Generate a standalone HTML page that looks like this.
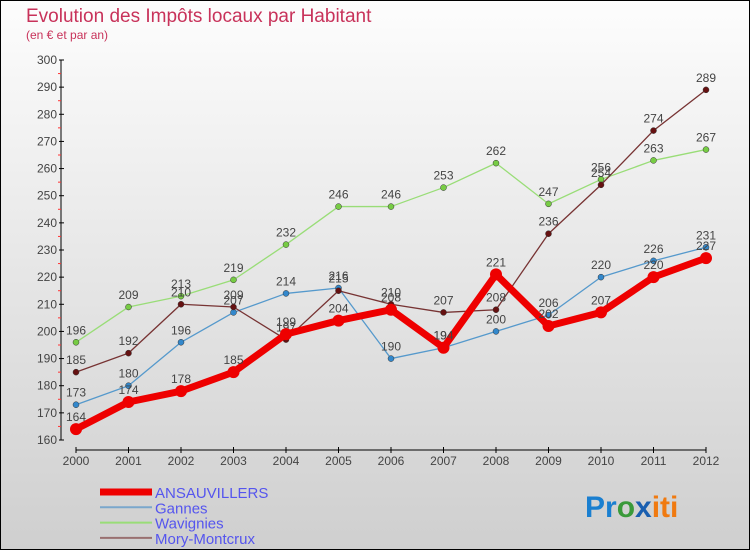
<!DOCTYPE html>
<html><head><meta charset="utf-8"><style>
body{margin:0}
#c{width:750px;height:550px;position:relative;overflow:hidden;font-family:"Liberation Sans",sans-serif}
</style></head><body>
<div id="c">
<svg id="s" width="750" height="550" xmlns="http://www.w3.org/2000/svg">
<defs><linearGradient id="bg" x1="0" y1="0" x2="0" y2="1"><stop offset="0" stop-color="#fdfdfd"/><stop offset="1" stop-color="#cfcfcf"/></linearGradient></defs>
<rect x="0.5" y="0.5" width="749" height="549" fill="url(#bg)" stroke="#000"/>
<text x="26" y="22" font-size="19" fill="#c8325a">Evolution des Impôts locaux par Habitant</text>
<text x="26" y="39" font-size="12" fill="#c8325a">(en € et par an)</text>
<g id="axes"></g><g id="series"></g><g id="legend"></g>
<text x="585" y="517" font-size="30" font-weight="bold"><tspan fill="#1a7fd0">Pr</tspan><tspan fill="#3a9a3a">o</tspan><tspan fill="#1a5fb0">x</tspan><tspan fill="#f07a10">iti</tspan></text>
</svg>
</div>
<script>
const years=[2000,2001,2002,2003,2004,2005,2006,2007,2008,2009,2010,2011,2012];
const yTicks=[160,170,180,190,200,210,220,230,240,250,260,270,280,290,300];
const ansauvillers=[164,174,178,185,199,204,208,194,221,202,207,220,227];
const gannes=[173,180,196,207,214,216,190,194,200,206,220,226,231];
const wavignies=[196,209,213,219,232,246,246,253,262,247,256,263,267];
const mory=[185,192,210,209,197,215,210,207,208,236,254,274,289];
const NS="http://www.w3.org/2000/svg";
const X=i=>76+i*52.5, Y=v=>440-(v-160)*380/140;
function mk(t,a,p){const e=document.createElementNS(NS,t);for(const k in a)e.setAttribute(k,a[k]);p.appendChild(e);return e;}
const ax=document.getElementById('axes');
let l=mk('line',{x1:61,y1:Y(300),x2:61,y2:Y(160),stroke:'#000'},ax);


l=mk('line',{x1:76,y1:450,x2:706,y2:450,stroke:'#000'},ax);


yTicks.forEach(v=>{
 mk('line',{x1:59,y1:Y(v),x2:64,y2:Y(v),stroke:'#000'},ax);
 if(v<300)mk('line',{x1:58,y1:Y(v+5),x2:61,y2:Y(v+5),stroke:'#f33'},ax);
 const t=mk('text',{x:57,y:Y(v)+4,'text-anchor':'end','font-size':12,fill:'#444'},ax);
 t.textContent=v;
 
 
});
years.forEach((y,i)=>{
 mk('line',{x1:X(i),y1:447,x2:X(i),y2:453,stroke:'#000'},ax);
 const t=mk('text',{x:X(i),y:465,'text-anchor':'middle','font-size':12,fill:'#444'},ax);
 t.textContent=y;
 
 
});
const sg=document.getElementById('series');
const series=[
 {n:'wavignies',d:wavignies,c:'#99dd77',pc:'#77cc44',w:1.3,r:3},
 {n:'gannes',d:gannes,c:'#5599cc',pc:'#3388cc',w:1.3,r:3},
 {n:'mory-montcrux',d:mory,c:'#773333',pc:'#661111',w:1.3,r:3},
 {n:'ansauvillers',d:ansauvillers,c:'#ee0000',pc:'#ee0000',w:7,r:6}
];
series.forEach(s=>{
 const g=mk('g',{},sg);
 
 
 const p=mk('polyline',{points:s.d.map((v,i)=>X(i)+','+Y(v)).join(' '),fill:'none',stroke:s.c,'stroke-width':s.w,'stroke-linejoin':'round'},g);
 
 
 s.d.forEach((v,i)=>{
  const c=mk('circle',{cx:X(i),cy:Y(v),r:s.r,fill:s.pc,stroke:'#333','stroke-width':s.r>3?0:0.5},g);
  
  
  const t=mk('text',{x:X(i),y:Y(v)-8,'text-anchor':'middle','font-size':12,fill:'#444'},g);
  t.textContent=v;
  
  
 });
});
const lg=document.getElementById('legend');
[['ANSAUVILLERS','#ee0000',7],['Gannes','#7aa7cc',2],['Wavignies','#99dd77',2],['Mory-Montcrux','#997070',2]].forEach((e,i)=>{
 const y=492+i*15.3;
 const ln=mk('line',{x1:100,y1:y,x2:152,y2:y,stroke:e[1],'stroke-width':e[2]},lg);
 
 
 const t=mk('text',{x:155,y:y+6,'font-size':15,fill:'#5555ee'},lg);
 t.textContent=e[0];
 
 
});
</script>
</body></html>
